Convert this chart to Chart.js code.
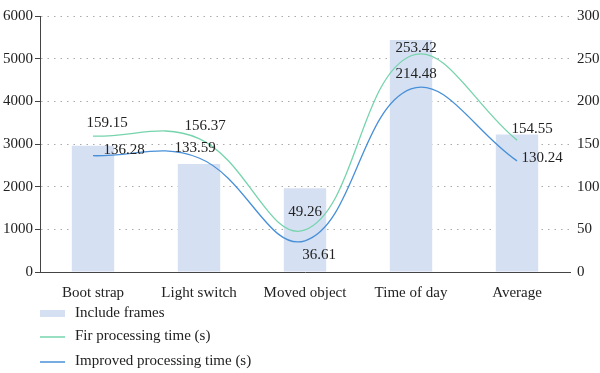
<!DOCTYPE html>
<html>
<head>
<meta charset="utf-8">
<script src="https://cdn.jsdelivr.net/npm/chart.js@4.4.0/dist/chart.umd.min.js"></script>
<style>
  html, body { margin: 0; padding: 0; background: #fff; }
  #wrap { width: 600px; height: 373px; position: relative; }
</style>
</head>
<body>
<div id="wrap"><canvas id="chart" width="600" height="373"></canvas></div>
<script>
const categories = ["Boot strap", "Light switch", "Moved object", "Time of day", "Average"];
const frames = [2960, 2530, 1960, 5440, 3220];
const firTime = [159.15, 156.37, 49.26, 253.42, 154.55];
const improvedTime = [136.28, 133.59, 36.61, 214.48, 130.24];
const leftTicks = [0, 1000, 2000, 3000, 4000, 5000, 6000];
const rightTicks = [0, 50, 100, 150, 200, 250, 300];
const seriesNames = ["Include frames", "Fir processing time (s)", "Improved processing time (s)"];

const FONT = "'Liberation Serif', 'DejaVu Serif', serif";
const TEXT = "#222";

// where each value label sits relative to its point (px)
const labelShift = {
    1: [[14, -13], [6, -13], [0, -18], [5, -8], [15, -11]],
    2: [[31, -6], [-4, -10], [14, 14], [5, -15], [25, -3]]
};

const valueLabels = {
    id: "valueLabels",
    afterDatasetsDraw(chart) {
        const ctx = chart.ctx;
        ctx.save();
        ctx.font = "15px " + FONT;
        ctx.fillStyle = TEXT;
        ctx.textAlign = "center";
        ctx.textBaseline = "middle";
        [1, 2].forEach((di) => {
            const meta = chart.getDatasetMeta(di);
            const data = chart.data.datasets[di].data;
            meta.data.forEach((pt, i) => {
                const s = labelShift[di][i];
                ctx.fillText(data[i].toFixed(2), pt.x + s[0], pt.y + s[1]);
            });
        });
        ctx.restore();
    }
};

const sideLegend = {
    id: "sideLegend",
    afterDraw(chart) {
        const ctx = chart.ctx;
        const ds = chart.data.datasets;
        const rows = [313, 336, 361];
        ctx.save();
        ctx.font = "15px " + FONT;
        ctx.textBaseline = "middle";
        ds.forEach((d, i) => {
            const y = rows[i];
            if (d.type === "bar") {
                ctx.fillStyle = d.backgroundColor;
                ctx.fillRect(40, y - 3, 25, 7);
            } else {
                ctx.strokeStyle = d.borderColor;
                ctx.lineWidth = 1.5;
                ctx.beginPath();
                ctx.moveTo(40, y + 1);
                ctx.lineTo(65, y + 1);
                ctx.stroke();
            }
            ctx.fillStyle = TEXT;
            ctx.fillText(d.label, 75, y);
        });
        ctx.restore();
    }
};

const plain = (v) => String(v);

new Chart(document.getElementById("chart"), {
    data: {
        labels: categories,
        datasets: [
            {
                type: "bar",
                label: seriesNames[0],
                data: frames,
                yAxisID: "y",
                backgroundColor: "rgb(214, 224, 243)",
                barPercentage: 0.4,
                categoryPercentage: 1,
                order: 3
            },
            {
                type: "line",
                label: seriesNames[1],
                data: firTime,
                yAxisID: "y1",
                borderColor: "rgb(118, 212, 172)",
                borderWidth: 1.3,
                pointRadius: 0,
                tension: 0.4,
                fill: false,
                order: 1
            },
            {
                type: "line",
                label: seriesNames[2],
                data: improvedTime,
                yAxisID: "y1",
                borderColor: "rgb(72, 144, 216)",
                borderWidth: 1.3,
                pointRadius: 0,
                tension: 0.4,
                fill: false,
                order: 2
            }
        ]
    },
    options: {
        responsive: false,
        animation: false,
        layout: { padding: { top: 9, bottom: 70, left: 0, right: 0 } },
        plugins: {
            legend: { display: false },
            tooltip: { enabled: false }
        },
        scales: {
            x: {
                grid: { display: false },
                border: { display: true, color: "#444", width: 1 },
                ticks: { color: TEXT, font: { family: FONT, size: 15 }, padding: 4, maxRotation: 0 },
                afterFit(scale) { scale.height = 31; }
            },
            y: {
                position: "left",
                min: 0,
                max: 6000,
                afterBuildTicks(scale) { scale.ticks = leftTicks.map((v) => ({ value: v })); },
                grid: {
                    color: "#aaa",
                    lineWidth: 1,
                    tickLength: 5,
                    tickColor: "#444",
                    tickBorderDash: [],
                    drawTicks: true
                },
                border: { display: true, color: "#444", width: 1, dash: [1.5, 5] },
                ticks: { color: TEXT, font: { family: FONT, size: 15 }, padding: 2, callback: plain },
                afterFit(scale) { scale.width = 40; }
            },
            y1: {
                position: "right",
                min: 0,
                max: 300,
                afterBuildTicks(scale) { scale.ticks = rightTicks.map((v) => ({ value: v })); },
                grid: { display: false, drawTicks: false },
                border: { display: false },
                ticks: { color: TEXT, font: { family: FONT, size: 15 }, padding: 7, callback: plain },
                afterFit(scale) { scale.width = 30; }
            }
        }
    },
    plugins: [valueLabels, sideLegend]
});
</script>
</body>
</html>
